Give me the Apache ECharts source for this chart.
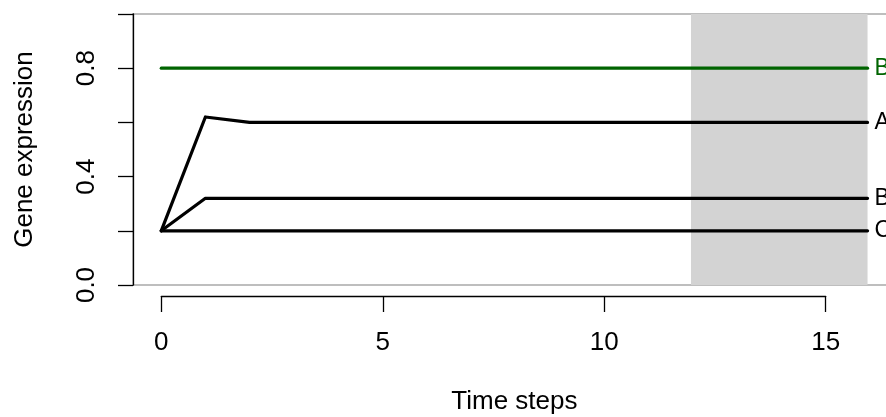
<!DOCTYPE html>
<html>
<head>
<meta charset="utf-8">
<title>Gene expression over time</title>
<script src="https://cdn.jsdelivr.net/npm/echarts@6/dist/echarts.min.js"></script>
<style>
  html, body { margin: 0; padding: 0; background: #ffffff; }
  #chart { width: 886px; height: 417px; }
</style>
</head>
<body>
<div id="chart"></div>
<script>
// Simulation time steps
const timeSteps = [0, 1, 2, 3, 4, 5, 6, 7, 8, 9, 10, 11, 12, 13, 14, 15, 16];

// Expression level per gene at each time step
const geneB2 = [0.8, 0.8, 0.8, 0.8, 0.8, 0.8, 0.8, 0.8, 0.8, 0.8, 0.8, 0.8, 0.8, 0.8, 0.8, 0.8, 0.8];
const geneA  = [0.2, 0.62, 0.6, 0.6, 0.6, 0.6, 0.6, 0.6, 0.6, 0.6, 0.6, 0.6, 0.6, 0.6, 0.6, 0.6, 0.6];
const geneB  = [0.2, 0.32, 0.32, 0.32, 0.32, 0.32, 0.32, 0.32, 0.32, 0.32, 0.32, 0.32, 0.32, 0.32, 0.32, 0.32, 0.32];
const geneC  = [0.2, 0.2, 0.2, 0.2, 0.2, 0.2, 0.2, 0.2, 0.2, 0.2, 0.2, 0.2, 0.2, 0.2, 0.2, 0.2, 0.2];

// Line labels written at the right end of each trajectory
const lineLabels = ['B', 'A', 'B', 'C'];
const lineColors = ['#006400', '#000000', '#000000', '#000000'];
const lineValues = [geneB2, geneA, geneB, geneC];

// Highlighted time window (shaded band)
const shadedWindow = [12, 16];

// Axis ticks
const xTicks = { min: 0, max: 15, interval: 5 };
const yTickLabels = ['0.0', '0.4', '0.8'];

const FONT = 'Liberation Sans, Arial, sans-serif';
const FS = 26;
const FS_LABEL = 23;

const chart = echarts.init(document.getElementById('chart'), null, { renderer: 'canvas' });

const series = lineValues.map((vals, i) => ({
  type: 'line',
  name: 'gene' + i,
  xAxisIndex: 0,
  yAxisIndex: 0,
  data: timeSteps.map((t, k) => [t, vals[k]]),
  showSymbol: false,
  symbol: 'none',
  silent: true,
  clip: false,
  z: 3,
  lineStyle: { color: lineColors[i], width: 3.2, cap: 'round', join: 'round' },
  endLabel: {
    show: true,
    formatter: () => lineLabels[i],
    color: lineColors[i],
    fontFamily: FONT,
    fontSize: FS_LABEL,
    distance: 7,
    verticalAlign: 'middle'
  }
}));

// Shaded band behind the lines
series.push({
  type: 'line',
  name: 'window',
  xAxisIndex: 0,
  yAxisIndex: 0,
  data: [],
  silent: true,
  z: 1,
  markArea: {
    silent: true,
    itemStyle: { color: '#d3d3d3' },
    data: [[{ xAxis: shadedWindow[0], yAxis: 0 }, { xAxis: shadedWindow[1], yAxis: 1 }]]
  }
});

const option = {
  animation: false,
  backgroundColor: '#ffffff',
  grid: [
    {
      // plotting region (x range padded by 4% on both sides)
      left: 133, top: 14, width: 762.8, height: 271,
      show: true,
      borderColor: '#bebebe',
      borderWidth: 2,
      backgroundColor: 'transparent',
      containLabel: false,
      outerBoundsMode: 'none'
    },
    {
      // detached x axis spanning the tick range only
      left: 161.3, width: 664.4, top: 200, bottom: 121,
      show: false,
      containLabel: false,
      outerBoundsMode: 'none'
    }
  ],
  xAxis: [
    {
      gridIndex: 0,
      type: 'value',
      min: -0.64,
      max: 16.64,
      axisLine: { show: false },
      axisTick: { show: false },
      axisLabel: { show: false },
      splitLine: { show: false },
      name: 'Time steps',
      nameLocation: 'middle',
      nameGap: 104,
      nameTextStyle: { fontFamily: FONT, fontSize: FS, color: '#000000' }
    },
    {
      gridIndex: 1,
      type: 'value',
      position: 'bottom',
      min: xTicks.min,
      max: xTicks.max,
      interval: xTicks.interval,
      axisLine: { show: true, onZero: false, lineStyle: { color: '#000000', width: 1.3 } },
      axisTick: { show: true, inside: false, length: 16, lineStyle: { color: '#000000', width: 1.3 } },
      axisLabel: { show: true, margin: 34, fontFamily: FONT, fontSize: FS, color: '#000000' },
      splitLine: { show: false }
    }
  ],
  yAxis: [
    {
      gridIndex: 0,
      type: 'value',
      min: 0,
      max: 1,
      interval: 0.2,
      axisLine: { show: true, onZero: false, lineStyle: { color: '#000000', width: 1.3 } },
      axisTick: { show: true, inside: false, length: 15, lineStyle: { color: '#000000', width: 1.3 } },
      axisLabel: {
        show: true,
        rotate: 90,
        margin: 33,
        fontFamily: FONT,
        fontSize: FS,
        color: '#000000',
        formatter: (v) => {
          const s = v.toFixed(1);
          return yTickLabels.indexOf(s) >= 0 ? s : '';
        }
      },
      splitLine: { show: false },
      name: 'Gene expression',
      nameLocation: 'middle',
      nameRotate: 90,
      nameGap: 95,
      nameTextStyle: { fontFamily: FONT, fontSize: FS, color: '#000000' }
    },
    {
      gridIndex: 1,
      type: 'value',
      show: false
    }
  ],
  series: series
};

chart.setOption(option);
</script>
</body>
</html>
